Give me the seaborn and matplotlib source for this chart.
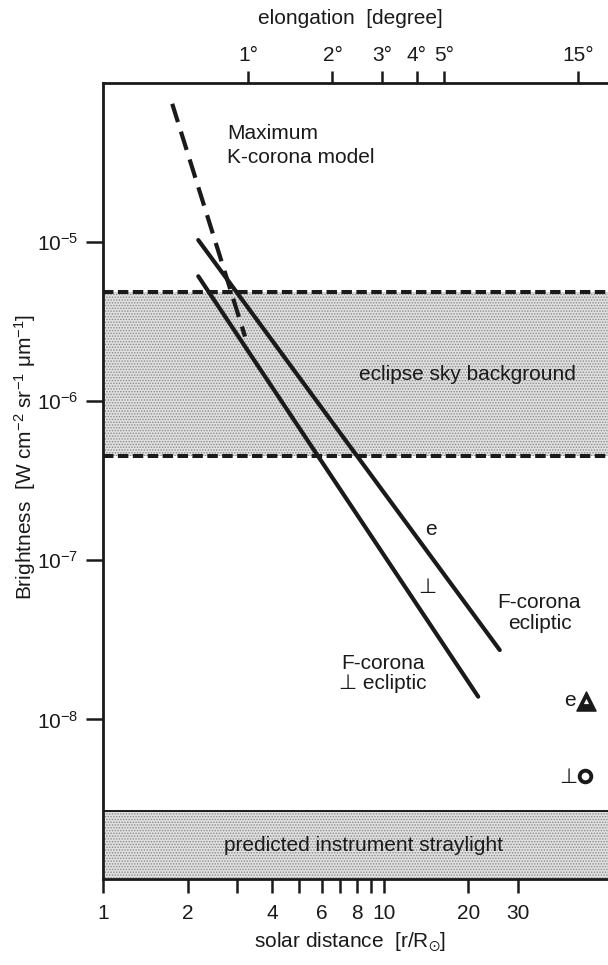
import numpy as np
import pandas as pd
import matplotlib
matplotlib.use("Agg")
import matplotlib.pyplot as plt
from matplotlib.ticker import NullLocator
import seaborn as sns

# ---------------- data ----------------
k_r = [1.76, 3.2]                 # maximum K-corona model (dashed)
k_b = [7.4e-5, 2.55e-6]
fe_r = [2.18, 25.9]               # F-corona, ecliptic
fe_b = [1.03e-5, 2.73e-8]
fp_r = [2.18, 21.7]               # F-corona, perpendicular to ecliptic
fp_b = [6.1e-6, 1.39e-8]
sky_band = [4.5e-7, 4.87e-6]      # eclipse sky background
stray_band = [1.0e-9, 2.65e-9]    # predicted instrument straylight
obs_r = [52.5, 52.0]
obs_b = [1.31e-8, 4.4e-9]
obs_kind = ["e", "perp"]

x_ticks = [1, 2, 3, 4, 5, 6, 7, 8, 9, 10, 20, 30]
x_labels = ["1", "2", "", "4", "", "6", "", "8", "", "10", "20", "30"]
y_ticks = [1e-8, 1e-7, 1e-6, 1e-5]
y_labels = [r"$10^{-8}$", r"$10^{-7}$", r"$10^{-6}$", r"$10^{-5}$"]
elong_deg = [1, 2, 3, 4, 5, 15]
elong_labels = ["1°", "2°", "3°", "4°", "5°", "15°"]
r_per_deg = 3.28

# ---------------- style ----------------
sns.set_theme(style="white")
plt.rcParams["font.family"] = ["Liberation Sans", "DejaVu Sans"]
plt.rcParams["mathtext.fontset"] = "custom"
plt.rcParams["mathtext.rm"] = "Liberation Sans"
plt.rcParams["mathtext.it"] = "Liberation Sans:italic"
plt.rcParams["mathtext.bf"] = "Liberation Sans:bold"
plt.rcParams["mathtext.default"] = "regular"
plt.rcParams["hatch.linewidth"] = 0.7
FS = 15
INK = "#1a1a1a"

fig = plt.figure(figsize=(6.08, 9.65), dpi=100)
ax = fig.add_axes([0.170, 0.0896, 0.830, 0.8244])
ax.set_xscale("log")
ax.set_yscale("log")
ax.set_xlim(1, 63)
ax.set_ylim(1e-9, 1e-4)

# bands
ax.axhspan(sky_band[0], sky_band[1], facecolor="#e0e0e0", edgecolor="#8a8a8a",
           hatch="......", lw=0, zorder=0)
for yv in sky_band:
    ax.axhline(yv, color=INK, lw=2.9, ls=(0, (2.6, 1.1)), zorder=2)
ax.axhspan(stray_band[0], stray_band[1], facecolor="#e0e0e0", edgecolor="#8a8a8a",
           hatch="......", lw=0, zorder=0)
ax.axhline(stray_band[1], color=INK, lw=1.4, zorder=2)

# lines
df = pd.DataFrame({
    "r": k_r + fe_r + fp_r,
    "b": k_b + fe_b + fp_b,
    "curve": ["K"] * 2 + ["Fe"] * 2 + ["Fp"] * 2,
})
sns.lineplot(data=df, x="r", y="b", hue="curve", style="curve",
             palette={"K": INK, "Fe": INK, "Fp": INK},
             dashes={"K": (4.6, 2.4), "Fe": "", "Fp": ""},
             linewidth=3.0, estimator=None, sort=False, legend=False, ax=ax, zorder=3)

# observation markers: filled triangle (with small white centre) and ring
obs = pd.DataFrame({"r": obs_r, "b": obs_b, "kind": obs_kind})
tri = obs[obs["kind"] == "e"]
ring = obs[obs["kind"] == "perp"]
sns.scatterplot(data=tri, x="r", y="b", marker="^", s=190, color=INK,
                edgecolor=INK, linewidth=1.0, legend=False, ax=ax, zorder=5)
sns.scatterplot(data=tri, x="r", y="b", marker="^", s=14, color="white",
                edgecolor="white", linewidth=0, legend=False, ax=ax, zorder=6)
sns.scatterplot(data=ring, x="r", y="b", marker="o", s=70, color="white",
                edgecolor=INK, linewidth=2.8, legend=False, ax=ax, zorder=5)

# annotations
tk = dict(fontsize=FS, color=INK)
ax.text(2.76, 4.04e-5, "Maximum\nK-corona model", ha="left", va="center",
        linespacing=1.3, **tk)
ax.text(19.8, 1.47e-6, "eclipse sky background", ha="center", va="center", **tk)
ax.text(14.7, 1.56e-7, "e", ha="center", va="center", **tk)
ax.text(14.3, 6.78e-8, "⊥", ha="center", va="center", **tk)
ax.text(35.9, 4.67e-8, "F-corona\necliptic", ha="center", va="center",
        linespacing=1.1, **tk)
ax.text(9.92, 1.94e-8, "F-corona\n⊥ ecliptic", ha="center", va="center",
        linespacing=1.1, **tk)
ax.text(46.1, 1.31e-8, "e", ha="center", va="center", **tk)
ax.text(45.3, 4.3e-9, "⊥", ha="center", va="center", **tk)
ax.text(8.44, 1.61e-9, "predicted instrument straylight", ha="center", va="center", **tk)

# axes / ticks
ax.set_xticks(x_ticks)
ax.set_xticklabels(x_labels)
ax.xaxis.set_minor_locator(NullLocator())
ax.set_yticks(y_ticks)
ax.set_yticklabels(y_labels)
ax.yaxis.set_minor_locator(NullLocator())
ax.tick_params(axis="x", which="major", direction="out", length=10, width=1.8,
               pad=8, labelsize=FS, colors=INK, bottom=True)
ax.tick_params(axis="y", which="major", direction="out", length=12, width=1.8,
               pad=6, labelsize=FS, colors=INK, left=True)
for s in ["left", "bottom", "top"]:
    ax.spines[s].set_visible(True)
    ax.spines[s].set_linewidth(2.0)
    ax.spines[s].set_color(INK)
ax.spines["right"].set_visible(False)
ax.set_xlabel("")
ax.set_ylabel("")

sec = ax.secondary_xaxis("top", functions=(lambda r: r / r_per_deg,
                                            lambda d: d * r_per_deg))
sec.set_xticks(elong_deg)
sec.set_xticklabels(elong_labels)
sec.xaxis.set_minor_locator(NullLocator())
sec.tick_params(axis="x", direction="out", length=9, width=1.8, pad=4,
                labelsize=FS, colors=INK)
sec.spines["top"].set_visible(False)

# axis labels
fig.text(0.5757, 0.0238, r"solar distance  [r/R$_{\odot}$]", ha="center", va="center", **tk)
fig.text(0.577, 0.981, "elongation  [degree]", ha="center", va="center", **tk)
fig.text(0.041, 0.5264, r"Brightness  [W cm$^{-2}$ sr$^{-1}$ $\mu$m$^{-1}$]",
         rotation=90, ha="center", va="center", **tk)

fig.savefig("out.png", dpi=100, facecolor="white")
